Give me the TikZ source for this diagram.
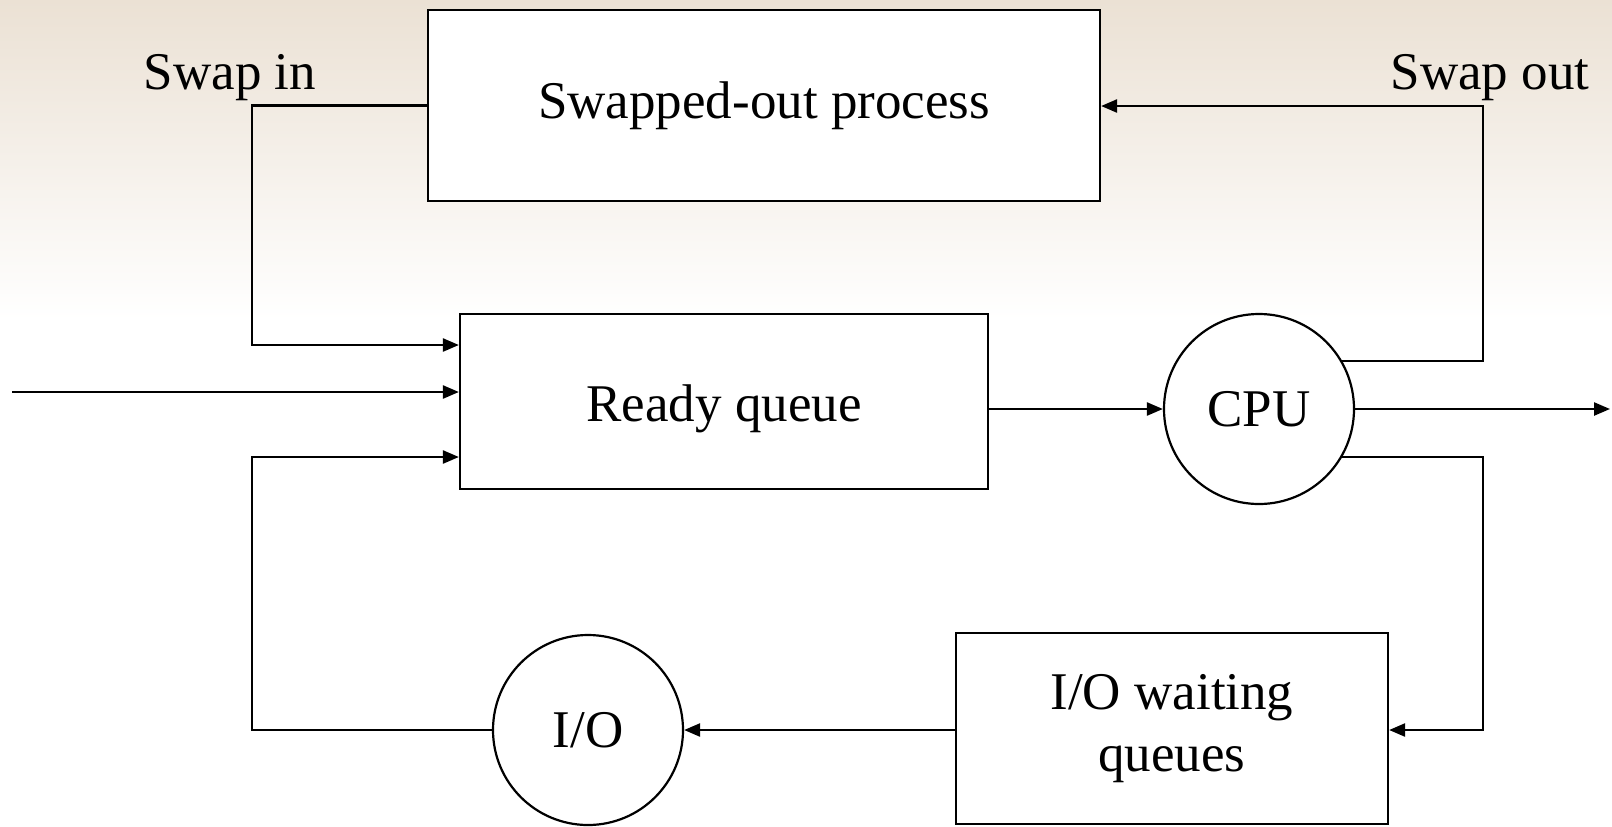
\documentclass[tikz,border=0pt]{standalone}
\usepackage{fontspec}
\setmainfont{Liberation Serif}
\usetikzlibrary{arrows.meta,calc}

\definecolor{paper}{RGB}{235,225,212}

\tikzset{
  box/.style={draw=black, line width=1.1pt, fill=white, rectangle, inner sep=0pt},
  unit/.style={draw=black, line width=1.1pt, fill=white, circle, inner sep=0pt,
               minimum size=95pt},
  label/.style={font=\fontsize{26.5pt}{31pt}\selectfont},
  flow/.style={line width=1.2pt, -{Triangle[length=8pt,width=6.5pt]}},
}

\begin{document}
\begin{tikzpicture}[x=0.5pt, y=-0.5pt]
  % page size fixed first, then the warm band across the top
  \useasboundingbox (0,0) rectangle (1612,826);
  \fill[white] (0,0) rectangle (1612,826);
  \shade[top color=paper, bottom color=white] (0,0) rectangle (1612,320);

  % stations
  \node[box, minimum width=336pt, minimum height=95.5pt, label]
    (swapped) at (764,105.5) {Swapped-out process};
  \node[box, minimum width=264pt, minimum height=87.5pt]
    (ready) at (724,401.5) {};
  \node[label] (readytext) at ($(ready.center)+(0,7)$) {Ready queue};
  \node[unit, label] (cpu) at (1259,409) {CPU};
  \node[unit, label] (io) at (588,730) {I/O};
  \node[box, minimum width=216pt, minimum height=95.5pt, label, align=center]
    (waiting) at (1172,728.5) {I/O waiting\\queues};

  % captions
  \node[label, anchor=base] (swapin) at (230,89) {Swap in};
  \node[label, anchor=base] (swapout) at (1490,89) {Swap out};

  % bend points of the loops
  \coordinate (inL)  at (252,345);
  \coordinate (new)  at (12,392);
  \coordinate (ioL)  at (252,457);
  \coordinate (outR) at (1483,106);
  \coordinate (waitR) at (1483,730);
  \coordinate (exit) at (1610,409);

  % swap in: swapped-out process back to the ready queue
  \draw[flow] (swapped.west) -| (inL) -- (ready.west |- inL);
  % new processes entering
  \draw[flow] (new) -- (ready.west |- new);
  % return from I/O
  \draw[flow] (io.west) -| (ioL) -- (ready.west |- ioL);
  % dispatch
  \draw[flow] (ready.east |- cpu.west) -- (cpu.west);
  % termination
  \draw[flow] (cpu.east) -- (exit);
  % swap out
  \draw[flow] (cpu.30) -| (outR) -- (swapped.east |- outR);
  % I/O request
  \draw[flow] (cpu.-30) -| (waitR) -- (waiting.east |- waitR);
  % I/O service
  \draw[flow] (waiting.west |- io.east) -- (io.east);
\end{tikzpicture}
\end{document}
